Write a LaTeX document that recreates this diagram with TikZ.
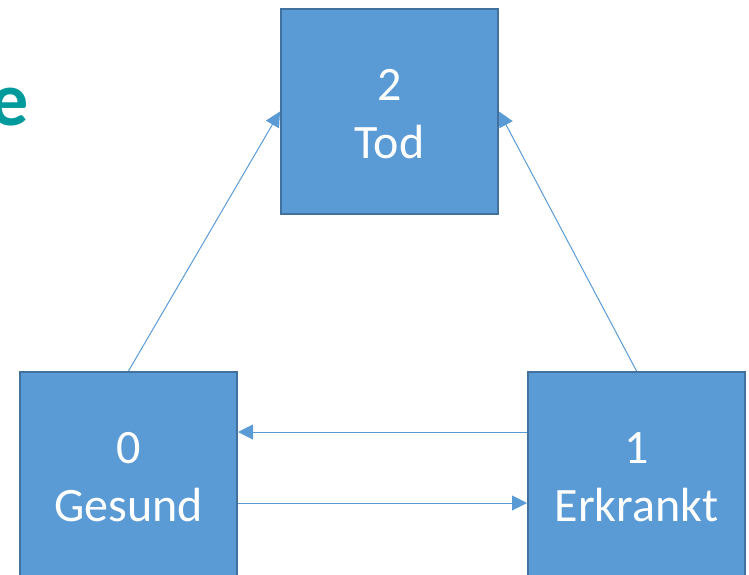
\documentclass[tikz,border=0pt]{standalone}
\usepackage{fontspec}
\setmainfont{Carlito}
\usetikzlibrary{arrows.meta}
\definecolor{boxfill}{HTML}{5B9BD5}
\definecolor{boxedge}{HTML}{41719C}
\definecolor{teal}{HTML}{009A9C}
\tikzset{
  statebox/.style={draw=boxedge, fill=boxfill, line width=2pt, minimum width=217pt, minimum height=205pt, inner sep=0pt},
  statetext/.style={align=center, text=white, inner sep=0pt, yshift=-3pt, font=\fontsize{48}{58}\selectfont},
  trans/.style={draw=boxfill, line width=1pt, -{Triangle[length=15pt,width=15pt]}}
}
\begin{document}
\begin{tikzpicture}[x=1pt,y=-1pt]
\useasboundingbox (0,0) rectangle (749,575);
\node[text=teal, font=\fontsize{76}{90}\selectfont\bfseries, anchor=base east, inner sep=0pt] (title) at (29,125) {e};
\node[statebox, label={[statetext]center:2\\Tod}] (tod) at (389.5,111.5) {};
\node[statebox, label={[statetext]center:0\\Gesund}] (gesund) at (128.5,474.5) {};
\node[statebox, label={[statetext]center:1\\Erkrankt}] (erkrankt) at (636.5,474.5) {};
\draw[trans] (gesund.north) -- (tod.west);
\draw[trans] (erkrankt.north) -- (tod.east);
\draw[trans] ([yshift=42.5pt]erkrankt.west) -- ([yshift=42.5pt]gesund.east);
\draw[trans] ([yshift=-28.5pt]gesund.east) -- ([yshift=-28.5pt]erkrankt.west);
\end{tikzpicture}
\end{document}
